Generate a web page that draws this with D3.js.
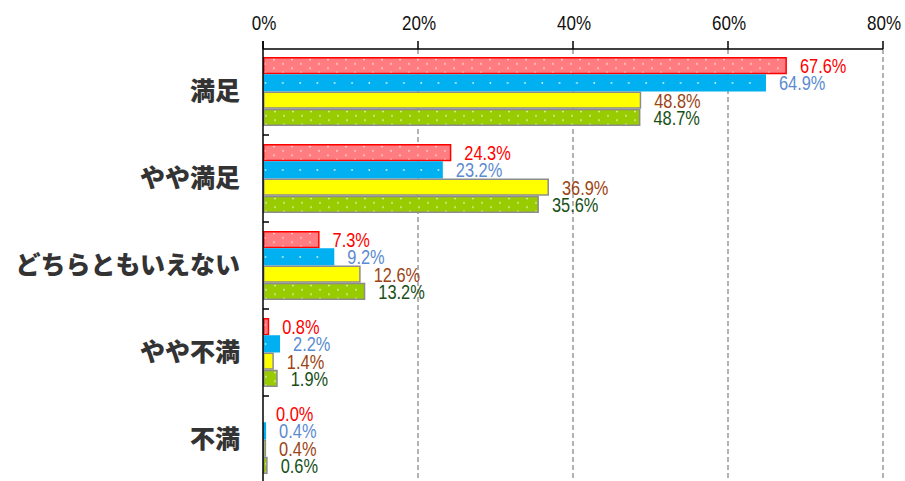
<!DOCTYPE html>
<html>
<head>
<meta charset="utf-8">
<script src="https://cdn.jsdelivr.net/npm/d3@7"></script>
<style>
  html, body { margin: 0; padding: 0; background: #fff; }
  svg { display: block; }
</style>
</head>
<body>
<svg id="chart" width="905" height="481"></svg>
<script>
// Satisfaction survey: share of responses per answer, four series per answer
const categories = ["満足", "やや満足", "どちらともいえない", "やや不満", "不満"];
const seriesNames = ["s1", "s2", "s3", "s4"];
const series1 = [67.6, 24.3, 7.3, 0.8, 0.0];
const series2 = [64.9, 23.2, 9.2, 2.2, 0.4];
const series3 = [48.8, 36.9, 12.6, 1.4, 0.4];
const series4 = [48.7, 35.6, 13.2, 1.9, 0.6];
const tickValues = [0, 20, 40, 60, 80];
const tickLabels = ["0%", "20%", "40%", "60%", "80%"];

const allSeries = [series1, series2, series3, series4];

const styles = [
  { fill: "#ff7c80", stroke: "#ff0000", pattern: "dotsRed",   label: "#ff0000" },
  { fill: "#00b0f0", stroke: "#00b0f0", pattern: "dotsBlue",  label: "#5b8bd0" },
  { fill: "#ffff00", stroke: "#8c8c8c", pattern: null,        label: "#9c4412" },
  { fill: "#99cc00", stroke: "#8c8c8c", pattern: "dotsGreen", label: "#174f17" }
];

const narrowFont = "'Liberation Sans', Arial, sans-serif";

const svg = d3.select("#chart");
const W = 905, H = 481;
const x0 = 263, x1 = 883, yTop = 49;

const x = d3.scaleLinear().domain([0, 80]).range([x0, x1]);
const y = d3.scaleBand().domain(categories).range([48, 483])
  .paddingInner(0.207).paddingOuter(0.1035);
const ySub = d3.scaleBand().domain(seriesNames).range([0, y.bandwidth()]).padding(0);

// Dot patterns for the textured bars
const defs = svg.append("defs");
function dotPattern(id, bg, w, h, dots, r, op) {
  const p = defs.append("pattern").attr("id", id)
    .attr("patternUnits", "userSpaceOnUse").attr("width", w).attr("height", h);
  p.append("rect").attr("width", w).attr("height", h).attr("fill", bg);
  dots.forEach(d => p.append("circle").attr("cx", d[0]).attr("cy", d[1]).attr("r", r)
    .attr("fill", "#fff").attr("fill-opacity", op));
}
dotPattern("dotsRed", "#ff7c80", 18, 8.66, [[4, 2.5], [13, 6.8]], 0.9, 0.8);
dotPattern("dotsBlue", "#00b0f0", 17.3, 17.3, [[6, 8.6]], 0.9, 0.85);
dotPattern("dotsGreen", "#99cc00", 18, 8.66, [[5, 2.5], [14, 6.8]], 0.9, 0.8);

// Dashed vertical gridlines
svg.append("g").selectAll("line").data(tickValues.filter(v => v > 0)).join("line")
  .attr("x1", d => x(d)).attr("x2", d => x(d))
  .attr("y1", yTop).attr("y2", H)
  .attr("stroke", "#9a9a9a").attr("stroke-width", 1.5)
  .attr("stroke-dasharray", "5,3");

// Bars and value labels
const groups = svg.append("g").selectAll("g").data(categories).join("g")
  .attr("transform", d => `translate(0,${y(d)})`);

groups.each(function(cat, ci) {
  const g = d3.select(this);
  allSeries.forEach((vals, si) => {
    const v = vals[ci];
    const st = styles[si];
    const by = ySub(seriesNames[si]);
    const bh = ySub.bandwidth();
    const w = x(v) - x(0);
    if (w > 0) {
      g.append("rect")
        .attr("x", x(0) + 0.75).attr("y", by + 0.75)
        .attr("width", Math.max(w - 1.5, 0.5)).attr("height", bh - 1.5)
        .attr("fill", st.pattern ? `url(#${st.pattern})` : st.fill)
        .attr("stroke", st.stroke).attr("stroke-width", 1.5);
    }
    g.append("text")
      .attr("transform", `translate(${x(v) + 13},${by + bh / 2 + 7.5}) scale(0.8,1)`)
      .attr("font-family", narrowFont)
      .attr("font-size", 20.5)
      .attr("fill", st.label)
      .text(v.toFixed(1) + "%");
  });
});

// Top axis
const axisG = svg.append("g");
axisG.append("line").attr("x1", x0).attr("x2", x1).attr("y1", yTop).attr("y2", yTop)
  .attr("stroke", "#000").attr("stroke-width", 1.5);
axisG.selectAll("line.tick").data(tickValues).join("line").attr("class", "tick")
  .attr("x1", d => x(d)).attr("x2", d => x(d))
  .attr("y1", yTop - 8).attr("y2", yTop)
  .attr("stroke", "#000").attr("stroke-width", 1.5);
axisG.selectAll("text").data(tickValues).join("text")
  .attr("transform", d => `translate(${x(d) + 1},30) scale(0.81,1)`)
  .attr("text-anchor", "middle")
  .attr("font-family", narrowFont)
  .attr("font-size", 21).attr("fill", "#111")
  .text((d, i) => tickLabels[i]);

// Left axis with ticks at category boundaries
svg.append("line").attr("x1", x0).attr("x2", x0).attr("y1", yTop - 8).attr("y2", H)
  .attr("stroke", "#000").attr("stroke-width", 1.5);
const boundaries = categories.map(c => y(c) + y.bandwidth() + y.step() * y.paddingInner() / 2);
svg.append("g").selectAll("line").data(boundaries).join("line")
  .attr("x1", x0).attr("x2", x0 + 6)
  .attr("y1", d => d).attr("y2", d => d)
  .attr("stroke", "#000").attr("stroke-width", 1.5);

// Category labels
svg.append("g").selectAll("text").data(categories).join("text")
  .attr("x", 240).attr("y", d => y(d) + y.bandwidth() / 2 + 2)
  .attr("text-anchor", "end").attr("dominant-baseline", "middle")
  .attr("font-family", "'Noto Sans CJK JP', sans-serif")
  .attr("font-weight", 900).attr("font-size", 25)
  .attr("fill", "#333")
  .text(d => d);
</script>
</body>
</html>
